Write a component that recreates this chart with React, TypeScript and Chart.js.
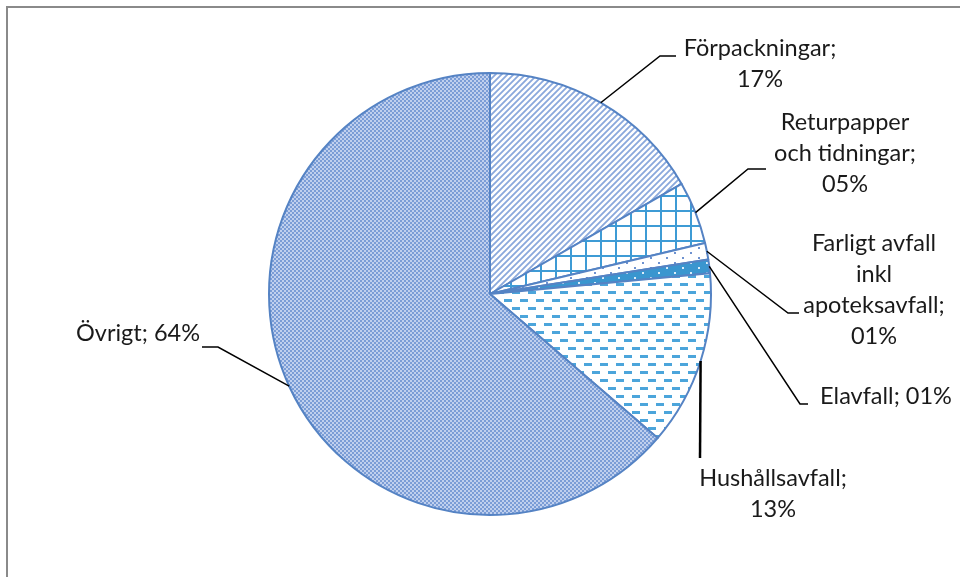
import React, { useEffect, useRef } from "react";
import { Chart, registerables } from "chart.js";

Chart.register(...registerables);

const categories = [
  "Förpackningar",
  "Returpapper och tidningar",
  "Farligt avfall inkl apoteksavfall",
  "Elavfall",
  "Hushållsavfall",
  "Övrigt",
];
const values = [16.7, 4.6, 1.2, 1.0, 12.8, 63.7];
const labelLines = [
  ["Förpackningar;", "17%"],
  ["Returpapper", "och tidningar;", "05%"],
  ["Farligt avfall", "inkl", "apoteksavfall;", "01%"],
  ["Elavfall; 01%"],
  ["Hushållsavfall;", "13%"],
  ["Övrigt; 64%"],
];

// label layout: text centre x, first line y, elbow points of the leader line
const labelLayout = [
  { x: 760, y: 48, elbow: [[660, 56], [676, 56]] },
  { x: 845, y: 122, elbow: [[748, 169], [766, 169]] },
  { x: 874, y: 243, elbow: [[788, 313], [799, 313]] },
  { x: 886, y: 396, elbow: [[800, 404], [808, 404]] },
  { x: 773, y: 478, elbow: [[700, 458]] },
  { x: 138, y: 333, elbow: [[218, 347], [202, 347]] },
];

const FONT = "23.5px Lato, 'Open Sans', sans-serif";
const BORDER = "#5583C4";

function makeTile(w: number, h: number, draw: (c: CanvasRenderingContext2D) => void) {
  const cv = document.createElement("canvas");
  cv.width = w;
  cv.height = h;
  const c = cv.getContext("2d")!;
  draw(c);
  const ctx = document.createElement("canvas").getContext("2d")!;
  return ctx.createPattern(cv, "repeat")!;
}

function makePatterns() {
  const stripes = makeTile(6, 6, (c) => {
    c.fillStyle = "#ffffff";
    c.fillRect(0, 0, 6, 6);
    c.strokeStyle = "#8AA8DC";
    c.lineWidth = 1.8;
    c.beginPath();
    c.moveTo(-2, 8);
    c.lineTo(8, -2);
    c.moveTo(-5, 5);
    c.lineTo(5, -5);
    c.moveTo(1, 11);
    c.lineTo(11, 1);
    c.stroke();
  });
  const grid = makeTile(15, 15, (c) => {
    c.fillStyle = "#ffffff";
    c.fillRect(0, 0, 15, 15);
    c.fillStyle = "#3E9BD5";
    c.fillRect(0, 0, 2, 15);
    c.fillRect(0, 0, 15, 2);
  });
  const dots = makeTile(16, 10, (c) => {
    c.fillStyle = "#ffffff";
    c.fillRect(0, 0, 16, 10);
    c.fillStyle = "#6E92D0";
    c.fillRect(2, 2, 2, 2);
    c.fillRect(10, 7, 2, 2);
  });
  const solidDots = makeTile(16, 10, (c) => {
    c.fillStyle = "#3A96CF";
    c.fillRect(0, 0, 16, 10);
    c.fillStyle = "#DDEEFA";
    c.fillRect(2, 2, 2, 2);
    c.fillRect(10, 7, 2, 2);
  });
  const dashes = makeTile(16, 16, (c) => {
    c.fillStyle = "#ffffff";
    c.fillRect(0, 0, 16, 16);
    c.fillStyle = "#4CA5DB";
    c.fillRect(0, 3, 8, 3);
    c.fillRect(8, 11, 8, 3);
  });
  const checker = makeTile(4, 4, (c) => {
    c.fillStyle = "#C0D0EE";
    c.fillRect(0, 0, 4, 4);
    c.fillStyle = "#7B9DD6";
    c.fillRect(0, 0, 2, 2);
    c.fillRect(2, 2, 2, 2);
  });
  return [stripes, grid, dots, solidDots, dashes, checker];
}

const framePlugin = {
  id: "frame",
  beforeDraw(chart: any) {
    const c = chart.ctx;
    c.save();
    c.fillStyle = "#ffffff";
    c.fillRect(0, 0, chart.width, chart.height);
    c.fillStyle = "#8A8A8A";
    c.fillRect(6, 6, 2, chart.height);
    c.fillRect(6, 6, chart.width, 2);
    c.restore();
  },
};

const labelPlugin = {
  id: "pieLabels",
  afterDraw(chart: any) {
    const c = chart.ctx;
    const meta = chart.getDatasetMeta(0);
    c.save();
    meta.data.forEach((arc: any, i: number) => {
      const mid = (arc.startAngle + arc.endAngle) / 2;
      const sx = arc.x + Math.cos(mid) * arc.outerRadius;
      const sy = arc.y + Math.sin(mid) * arc.outerRadius;
      const lay = labelLayout[i];
      c.strokeStyle = "#000000";
      c.lineWidth = i === 4 ? 2.5 : 1.5;
      c.beginPath();
      c.moveTo(sx, sy);
      lay.elbow.forEach((p) => c.lineTo(p[0], p[1]));
      c.stroke();
      c.fillStyle = "#1a1a1a";
      c.font = FONT;
      c.textAlign = "center";
      c.textBaseline = "middle";
      labelLines[i].forEach((t, k) => c.fillText(t, lay.x, lay.y + k * 31));
    });
    c.restore();
  },
};

export default function App() {
  const ref = useRef<HTMLCanvasElement>(null);
  useEffect(() => {
    const patterns = makePatterns();
    const chart = new Chart(ref.current!, {
      type: "pie",
      data: {
        labels: categories,
        datasets: [
          {
            data: values,
            backgroundColor: patterns as any,
            borderColor: BORDER,
            borderWidth: 2,
            borderJoinStyle: "round",
          } as any,
        ],
      },
      options: {
        animation: false,
        responsive: false,
        events: [],
        layout: { padding: { left: 268, right: 248, top: 72, bottom: 61 } },
        plugins: { legend: { display: false }, tooltip: { enabled: false } },
      },
      plugins: [framePlugin, labelPlugin],
    });
    return () => chart.destroy();
  }, []);
  return (
    <div style={{ position: "fixed", left: 0, top: 0, width: 960, height: 577 }}>
      <canvas ref={ref} width={960} height={577} style={{ display: "block" }} />
    </div>
  );
}
